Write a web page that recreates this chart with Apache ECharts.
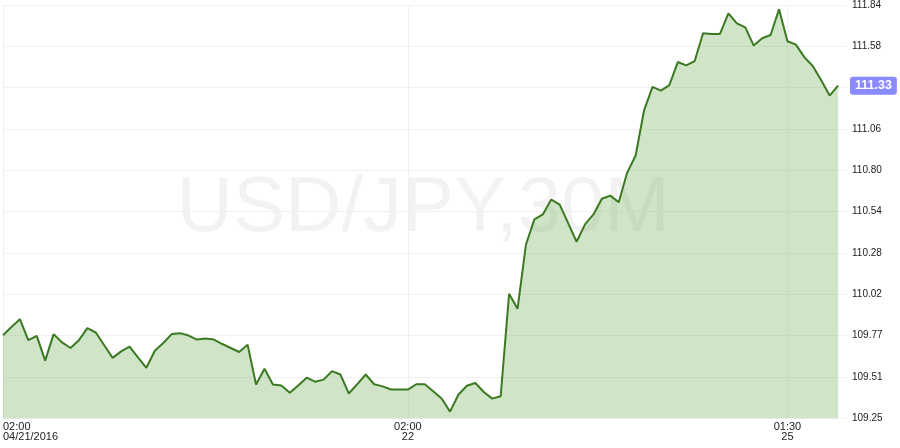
<!DOCTYPE html>
<html><head><meta charset="utf-8">
<script src="https://cdn.jsdelivr.net/npm/echarts@6/dist/echarts.min.js"></script>
<style>html,body{margin:0;padding:0;background:#fff}#c{width:900px;height:448px}</style>
</head><body><div id="c"></div>
<script>
const symbolName = 'USD/JPY,30M';

// 30-minute bar sessions (weekend gap between them)
const sessions = [
  { start: '2016-04-21T02:00:00Z', bars: 92 },
  { start: '2016-04-25T01:00:00Z', bars: 8 }
];

// close prices, one per bar
const prices = [
  109.768, 109.820, 109.868, 109.737, 109.764, 109.609, 109.775, 109.723, 109.688, 109.737,
  109.812, 109.785, 109.705, 109.626, 109.667, 109.696, 109.630, 109.564, 109.671, 109.719,
  109.775, 109.781, 109.766, 109.741, 109.747, 109.741, 109.713, 109.688, 109.663, 109.708,
  109.460, 109.558, 109.459, 109.453, 109.408, 109.454, 109.502, 109.477, 109.490, 109.543,
  109.522, 109.403, 109.462, 109.522, 109.461, 109.448, 109.428, 109.428, 109.428, 109.461,
  109.461, 109.417, 109.372, 109.290, 109.397, 109.452, 109.469, 109.413, 109.371, 109.386,
  110.027, 109.933, 110.336, 110.493, 110.524, 110.617, 110.586, 110.470, 110.353, 110.462,
  110.524, 110.622, 110.642, 110.600, 110.786, 110.893, 111.175, 111.323, 111.299, 111.333,
  111.478, 111.457, 111.484, 111.658, 111.654, 111.654, 111.782, 111.720, 111.695, 111.581,
  111.627, 111.647, 111.808, 111.608, 111.587, 111.509, 111.453, 111.364, 111.268, 111.330
];

// x tick labels shown on the axis
const xTickLabels = {
  '04/21/2016 02:00': '02:00\n04/21/2016',
  '04/22/2016 02:00': '02:00\n22',
  '04/25/2016 01:30': '01:30\n25'
};

// y axis scale
const yMin = 109.248, yMax = 111.835, yStep = 0.2587;

function pad(n) { return (n < 10 ? '0' : '') + n; }
function fmt(d) {
  return pad(d.getUTCMonth() + 1) + '/' + pad(d.getUTCDate()) + '/' + d.getUTCFullYear() +
    ' ' + pad(d.getUTCHours()) + ':' + pad(d.getUTCMinutes());
}
const categories = [];
sessions.forEach(s => {
  const t0 = new Date(s.start).getTime();
  for (let i = 0; i < s.bars; i++) categories.push(fmt(new Date(t0 + i * 1800000)));
});
categories.push(''); // right padding slot

const lastValue = prices[prices.length - 1];
const showTick = (idx, val) => Object.prototype.hasOwnProperty.call(xTickLabels, val);
const fmt2 = v => (Math.round(v * 100 + 1e-6) / 100).toFixed(2);

const chart = echarts.init(document.getElementById('c'), null, { renderer: 'canvas' });
chart.setOption({
  animation: false,
  backgroundColor: '#ffffff',
  graphic: [{
    type: 'text', z: 0, silent: true,
    x: 423, y: 209,
    style: {
      text: symbolName,
      font: '78px "Liberation Sans", Arial, sans-serif',
      fill: 'rgba(0,0,0,0.052)',
      textAlign: 'center', textVerticalAlign: 'middle'
    }
  }],
  grid: { left: 2.7, right: 53.5, top: 0.7, bottom: 29.7, containLabel: false },
  xAxis: {
    type: 'category',
    data: categories,
    boundaryGap: false,
    axisLine: { show: false },
    axisTick: { show: false },
    axisLabel: {
      interval: showTick,
      formatter: v => xTickLabels[v] || '',
      alignMinLabel: 'left',
      color: '#222',
      fontSize: 11,
      lineHeight: 10,
      margin: 4,
      fontFamily: '"Liberation Sans", Arial, sans-serif'
    },
    splitLine: { show: true, interval: showTick, lineStyle: { color: '#f0f0f0', width: 1 } }
  },
  yAxis: {
    type: 'value',
    position: 'right',
    min: yMin, max: yMax, interval: yStep,
    axisLine: { show: false },
    axisTick: { show: false },
    axisLabel: {
      formatter: v => fmt2(v),
      verticalAlignMaxLabel: 'middle',
      verticalAlignMinLabel: 'middle',
      color: '#222',
      fontSize: 10,
      margin: 5.5,
      fontFamily: '"Liberation Sans", Arial, sans-serif'
    },
    splitLine: { show: true, lineStyle: { color: '#f0f0f0', width: 1 } }
  },
  series: [{
    type: 'line',
    data: prices,
    z: 2,
    symbol: 'none',
    lineStyle: { color: '#3b7a22', width: 2 },
    areaStyle: { color: 'rgb(110,170,80)', opacity: 0.32, origin: 'start' },
    markLine: {
      silent: true,
      symbol: 'none',
      animation: false,
      lineStyle: { color: 'rgba(0,0,0,0)', width: 0.01 },
      label: {
        show: true,
        position: 'end',
        distance: 3.5,
        formatter: () => fmt2(lastValue),
        color: '#ffffff',
        fontWeight: 'bold',
        fontSize: 12.5,
        lineHeight: 13,
        fontFamily: '"Liberation Sans", Arial, sans-serif',
        backgroundColor: '#8a8aff',
        borderRadius: 3,
        padding: [3, 5, 2, 5]
      },
      data: [{ yAxis: lastValue }]
    }
  }]
});
</script>
</body></html>
